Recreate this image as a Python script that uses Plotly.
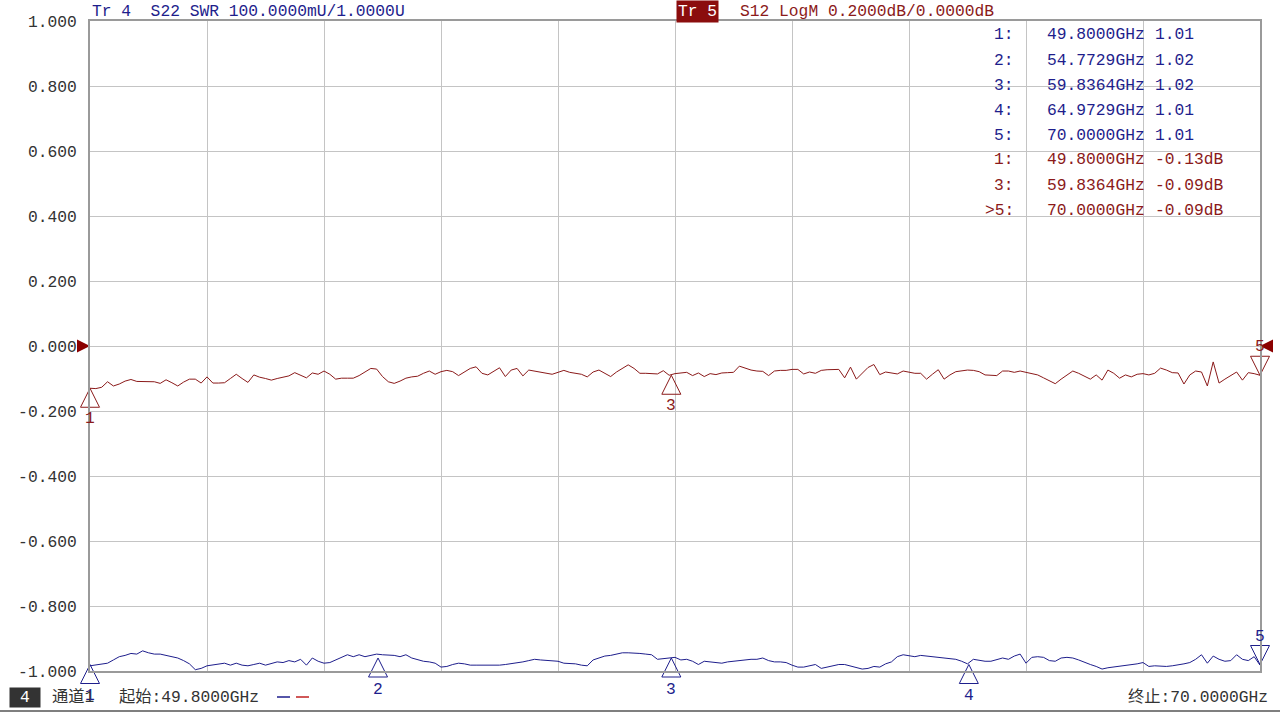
import plotly.graph_objects as go

# ---------------- data ----------------
freq_start = 49.8   # GHz
freq_stop = 70.0    # GHz
n_points = 201
freqs = [freq_start + (freq_stop - freq_start) * i / (n_points - 1) for i in range(n_points)]

# Tr 5 : S12 LogM (dB)
s12_db = [
    -0.130, -0.131, -0.127, -0.110, -0.123, -0.117, -0.108, -0.103, -0.109, -0.110,
    -0.110, -0.110, -0.115, -0.104, -0.113, -0.123, -0.111, -0.102, -0.102, -0.114,
    -0.095, -0.114, -0.114, -0.113, -0.100, -0.087, -0.100, -0.112, -0.089, -0.096,
    -0.100, -0.105, -0.100, -0.095, -0.092, -0.082, -0.089, -0.098, -0.083, -0.087,
    -0.077, -0.087, -0.102, -0.099, -0.099, -0.099, -0.091, -0.081, -0.069, -0.071,
    -0.094, -0.110, -0.115, -0.108, -0.099, -0.095, -0.093, -0.084, -0.077, -0.087,
    -0.079, -0.075, -0.079, -0.091, -0.079, -0.069, -0.064, -0.084, -0.089, -0.079,
    -0.067, -0.094, -0.074, -0.069, -0.092, -0.074, -0.077, -0.081, -0.084, -0.087,
    -0.081, -0.075, -0.081, -0.085, -0.087, -0.095, -0.080, -0.074, -0.083, -0.094,
    -0.080, -0.068, -0.058, -0.069, -0.084, -0.084, -0.086, -0.086, -0.076, -0.090,
    -0.085, -0.083, -0.081, -0.091, -0.083, -0.094, -0.085, -0.088, -0.083, -0.082,
    -0.081, -0.062, -0.069, -0.074, -0.077, -0.078, -0.091, -0.077, -0.075, -0.075,
    -0.072, -0.072, -0.086, -0.080, -0.084, -0.075, -0.073, -0.072, -0.072, -0.098,
    -0.065, -0.102, -0.083, -0.066, -0.057, -0.088, -0.080, -0.082, -0.086, -0.077,
    -0.081, -0.084, -0.084, -0.102, -0.087, -0.073, -0.102, -0.089, -0.079, -0.077,
    -0.074, -0.075, -0.079, -0.089, -0.091, -0.091, -0.077, -0.077, -0.081, -0.077,
    -0.081, -0.084, -0.089, -0.098, -0.108, -0.116, -0.102, -0.089, -0.077, -0.084,
    -0.094, -0.102, -0.089, -0.105, -0.074, -0.084, -0.099, -0.089, -0.095, -0.087,
    -0.085, -0.089, -0.084, -0.068, -0.074, -0.082, -0.083, -0.117, -0.089, -0.077,
    -0.080, -0.123, -0.049, -0.114, -0.102, -0.091, -0.080, -0.105, -0.082, -0.085,
    -0.090,
]

# Tr 4 : S22 SWR (U)
s22_swr = [
    1.008, 1.009, 1.010, 1.012, 1.017, 1.022, 1.024, 1.027, 1.026, 1.031,
    1.028, 1.026, 1.026, 1.024, 1.022, 1.020, 1.016, 1.011, 1.002, 1.004,
    1.008, 1.009, 1.011, 1.012, 1.009, 1.012, 1.009, 1.008, 1.010, 1.012,
    1.009, 1.012, 1.014, 1.013, 1.016, 1.014, 1.018, 1.009, 1.020, 1.015,
    1.012, 1.013, 1.017, 1.020, 1.025, 1.022, 1.025, 1.022, 1.024, 1.026,
    1.025, 1.025, 1.024, 1.022, 1.025, 1.020, 1.017, 1.015, 1.014, 1.012,
    1.006, 1.007, 1.010, 1.012, 1.011, 1.009, 1.009, 1.009, 1.008, 1.008,
    1.009, 1.010, 1.011, 1.013, 1.014, 1.016, 1.018, 1.017, 1.016, 1.015,
    1.015, 1.012, 1.012, 1.011, 1.009, 1.008, 1.017, 1.020, 1.023, 1.024,
    1.026, 1.028, 1.028, 1.028, 1.027, 1.026, 1.025, 1.018, 1.019, 1.021,
    1.021, 1.017, 1.018, 1.015, 1.010, 1.015, 1.014, 1.012, 1.012, 1.014,
    1.015, 1.016, 1.018, 1.018, 1.018, 1.020, 1.016, 1.014, 1.014, 1.013,
    1.009, 1.006, 1.006, 1.008, 1.010, 1.004, 1.006, 1.008, 1.010, 1.010,
    1.008, 1.006, 1.003, 1.004, 1.007, 1.006, 1.011, 1.014, 1.022, 1.025,
    1.024, 1.022, 1.024, 1.023, 1.022, 1.021, 1.021, 1.019, 1.018, 1.015,
    1.011, 1.018, 1.016, 1.015, 1.015, 1.018, 1.020, 1.018, 1.023, 1.026,
    1.012, 1.021, 1.022, 1.021, 1.016, 1.015, 1.020, 1.021, 1.020, 1.017,
    1.013, 1.010, 1.007, 1.003, 1.005, 1.006, 1.007, 1.008, 1.009, 1.011,
    1.013, 1.007, 1.008, 1.007, 1.007, 1.008, 1.009, 1.011, 1.013, 1.018,
    1.025, 1.012, 1.023, 1.018, 1.015, 1.016, 1.025, 1.018, 1.016, 1.022,
    1.009,
]

# markers
blue_marker_ids = ["1", "2", "3", "4", "5"]
blue_marker_freqs = [49.8000, 54.7729, 59.8364, 64.9729, 70.0000]
blue_marker_vals = [1.01, 1.02, 1.02, 1.01, 1.01]

red_marker_ids = ["1", "3", "5"]
red_marker_freqs = [49.8000, 59.8364, 70.0000]
red_marker_vals = [-0.13, -0.09, -0.09]

y_tick_vals = [1.0, 0.8, 0.6, 0.4, 0.2, 0.0, -0.2, -0.4, -0.6, -0.8, -1.0]
y_tick_text = ["1.000", "0.800", "0.600", "0.400", "0.200", "0.000",
               "-0.200", "-0.400", "-0.600", "-0.800", "-1.000"]

# ---------------- style ----------------
BLUE = "#1e1e8c"
RED = "#8b1a1a"
RED_BG = "#8b0d0d"
TXT = "#333333"
GRID = "#c4c4c4"
FRAME = "#9a9a9a"
FONT = "Liberation Mono, Noto Sans CJK SC, monospace"
FS = 16.3

W, H = 1280, 712
PL, PR, PT, PB = 90, 1260, 21, 671


def px(x):
    return (x - PL) / (PR - PL)


def py(y):
    return (PB - y) / (PB - PT)


fig = go.Figure()

fig.add_trace(go.Scatter(x=freqs, y=s12_db, mode="lines",
                         line=dict(color=RED, width=1), yaxis="y",
                         hoverinfo="skip", showlegend=False))
fig.add_trace(go.Scatter(x=freqs, y=s22_swr, mode="lines",
                         line=dict(color=BLUE, width=1), yaxis="y2",
                         hoverinfo="skip", showlegend=False))


# marker triangles (apex on the data point)
def marker_symbols(ids):
    return ["arrow-down-open" if i == "5" else "arrow-up-open" for i in ids]


fig.add_trace(go.Scatter(x=red_marker_freqs, y=red_marker_vals, mode="markers",
                         yaxis="y", cliponaxis=False, hoverinfo="skip", showlegend=False,
                         marker=dict(symbol=marker_symbols(red_marker_ids), size=19,
                                     color=RED, line=dict(color=RED, width=1))))
fig.add_trace(go.Scatter(x=blue_marker_freqs, y=blue_marker_vals, mode="markers",
                         yaxis="y2", cliponaxis=False, hoverinfo="skip", showlegend=False,
                         marker=dict(symbol=marker_symbols(blue_marker_ids), size=19,
                                     color=BLUE, line=dict(color=BLUE, width=1))))

# reference position arrows of Tr 5 (0 dB)
fig.add_trace(go.Scatter(x=[freq_start, freq_stop], y=[0.0, 0.0], mode="markers",
                         yaxis="y", cliponaxis=False, hoverinfo="skip", showlegend=False,
                         marker=dict(symbol=["arrow-right", "arrow-left"], size=13,
                                     color="#8b0000", line=dict(width=0))))

annotations = []

# marker number labels
for mid, f, v in zip(red_marker_ids, red_marker_freqs, red_marker_vals):
    annotations.append(dict(x=f, y=v, xref="x", yref="y", text=mid, showarrow=False,
                            yshift=(29 if mid == "5" else -30),
                            font=dict(family=FONT, size=FS, color=RED)))
for mid, f, v in zip(blue_marker_ids, blue_marker_freqs, blue_marker_vals):
    annotations.append(dict(x=f, y=v, xref="x", yref="y2", text=mid, showarrow=False,
                            yshift=(28 if mid == "5" else -31),
                            font=dict(family=FONT, size=FS, color=BLUE)))

# header lines
annotations.append(dict(x=px(90), y=py(11), xref="paper", yref="paper", xanchor="left",
                        yanchor="middle", showarrow=False,
                        text="Tr\u00a04\u00a0\u00a0S22\u00a0SWR\u00a0100.0000mU/1.0000U",
                        font=dict(family=FONT, size=FS, color=BLUE)))
annotations.append(dict(x=px(676), y=py(11), xref="paper", yref="paper", xanchor="left",
                        yanchor="middle", showarrow=False, text="Tr\u00a05",
                        bgcolor=RED_BG, borderpad=1,
                        font=dict(family=FONT, size=FS, color="white")))
annotations.append(dict(x=px(738), y=py(11), xref="paper", yref="paper", xanchor="left",
                        yanchor="middle", showarrow=False,
                        text="S12\u00a0LogM\u00a00.2000dB/0.0000dB",
                        font=dict(family=FONT, size=FS, color=RED)))

# marker table
rows = []
for mid, f, v in zip(blue_marker_ids, blue_marker_freqs, blue_marker_vals):
    rows.append((mid + ":", f"{f:.4f}GHz", f"{v:.2f}", BLUE))
for mid, f, v in zip(red_marker_ids, red_marker_freqs, red_marker_vals):
    lab = (">" if mid == "5" else "") + mid + ":"
    rows.append((lab, f"{f:.4f}GHz", f"{v:.2f}dB", RED))

for k, (lab, fr, val, col) in enumerate(rows):
    yy = py(35 + 25 * k)
    annotations.append(dict(x=px(1016), y=yy, xref="paper", yref="paper", xanchor="right",
                            yanchor="middle", showarrow=False, text=lab,
                            font=dict(family=FONT, size=FS, color=col)))
    annotations.append(dict(x=px(1045), y=yy, xref="paper", yref="paper", xanchor="left",
                            yanchor="middle", showarrow=False, text=fr,
                            font=dict(family=FONT, size=FS, color=col)))
    annotations.append(dict(x=px(1153), y=yy, xref="paper", yref="paper", xanchor="left",
                            yanchor="middle", showarrow=False, text=val,
                            font=dict(family=FONT, size=FS, color=col)))

# bottom status bar
annotations.append(dict(x=px(25), y=py(697), xref="paper", yref="paper", xanchor="center",
                        yanchor="middle", showarrow=False, text="4", width=28, height=17,
                        bgcolor="#333333", borderpad=1,
                        font=dict(family=FONT, size=FS, color="white")))
annotations.append(dict(x=px(50), y=py(697), xref="paper", yref="paper", xanchor="left",
                        yanchor="middle", showarrow=False, text="通道1",
                        font=dict(family=FONT, size=FS, color=TXT)))
annotations.append(dict(x=px(117), y=py(697), xref="paper", yref="paper", xanchor="left",
                        yanchor="middle", showarrow=False, text=f"起始:{freq_start:.4f}GHz",
                        font=dict(family=FONT, size=FS, color=TXT)))
annotations.append(dict(x=px(1270), y=py(697), xref="paper", yref="paper", xanchor="right",
                        yanchor="middle", showarrow=False, text=f"终止:{freq_stop:.4f}GHz",
                        font=dict(family=FONT, size=FS, color=TXT)))

shapes = [
    dict(type="line", xref="paper", yref="paper", x0=px(277), x1=px(290), y0=py(697), y1=py(697),
         line=dict(color=BLUE, width=1.5)),
    dict(type="line", xref="paper", yref="paper", x0=px(296), x1=px(309), y0=py(697), y1=py(697),
         line=dict(color="#c02020", width=1.5)),
    dict(type="line", xref="paper", yref="paper", x0=px(0), x1=px(1280), y0=py(711), y1=py(711),
         line=dict(color="#555555", width=1.5)),
]

fig.update_layout(
    width=W, height=H,
    margin=dict(l=PL, r=W - PR, t=PT, b=H - PB),
    paper_bgcolor="white", plot_bgcolor="white",
    showlegend=False,
    xaxis=dict(range=[freq_start, freq_stop], tick0=freq_start,
               dtick=(freq_stop - freq_start) / 10, showticklabels=False, ticks="",
               showgrid=True, gridcolor=GRID, gridwidth=1, zeroline=False,
               showline=True, mirror=True, linecolor=FRAME, linewidth=2),
    yaxis=dict(range=[-1.0, 1.0], tickmode="array", tickvals=y_tick_vals, ticktext=y_tick_text,
               ticks="", ticklabelstandoff=8,
               tickfont=dict(family=FONT, size=FS, color=TXT),
               showgrid=True, gridcolor=GRID, gridwidth=1, zeroline=False,
               showline=True, mirror=True, linecolor=FRAME, linewidth=2),
    yaxis2=dict(range=[1.0, 2.0], overlaying="y", visible=False, showgrid=False, zeroline=False),
    annotations=annotations,
    shapes=shapes,
)

fig.write_html("out.html",
               config={"displayModeBar": False},
               post_script="document.body.style.margin='0px';document.body.style.overflow='hidden';")
